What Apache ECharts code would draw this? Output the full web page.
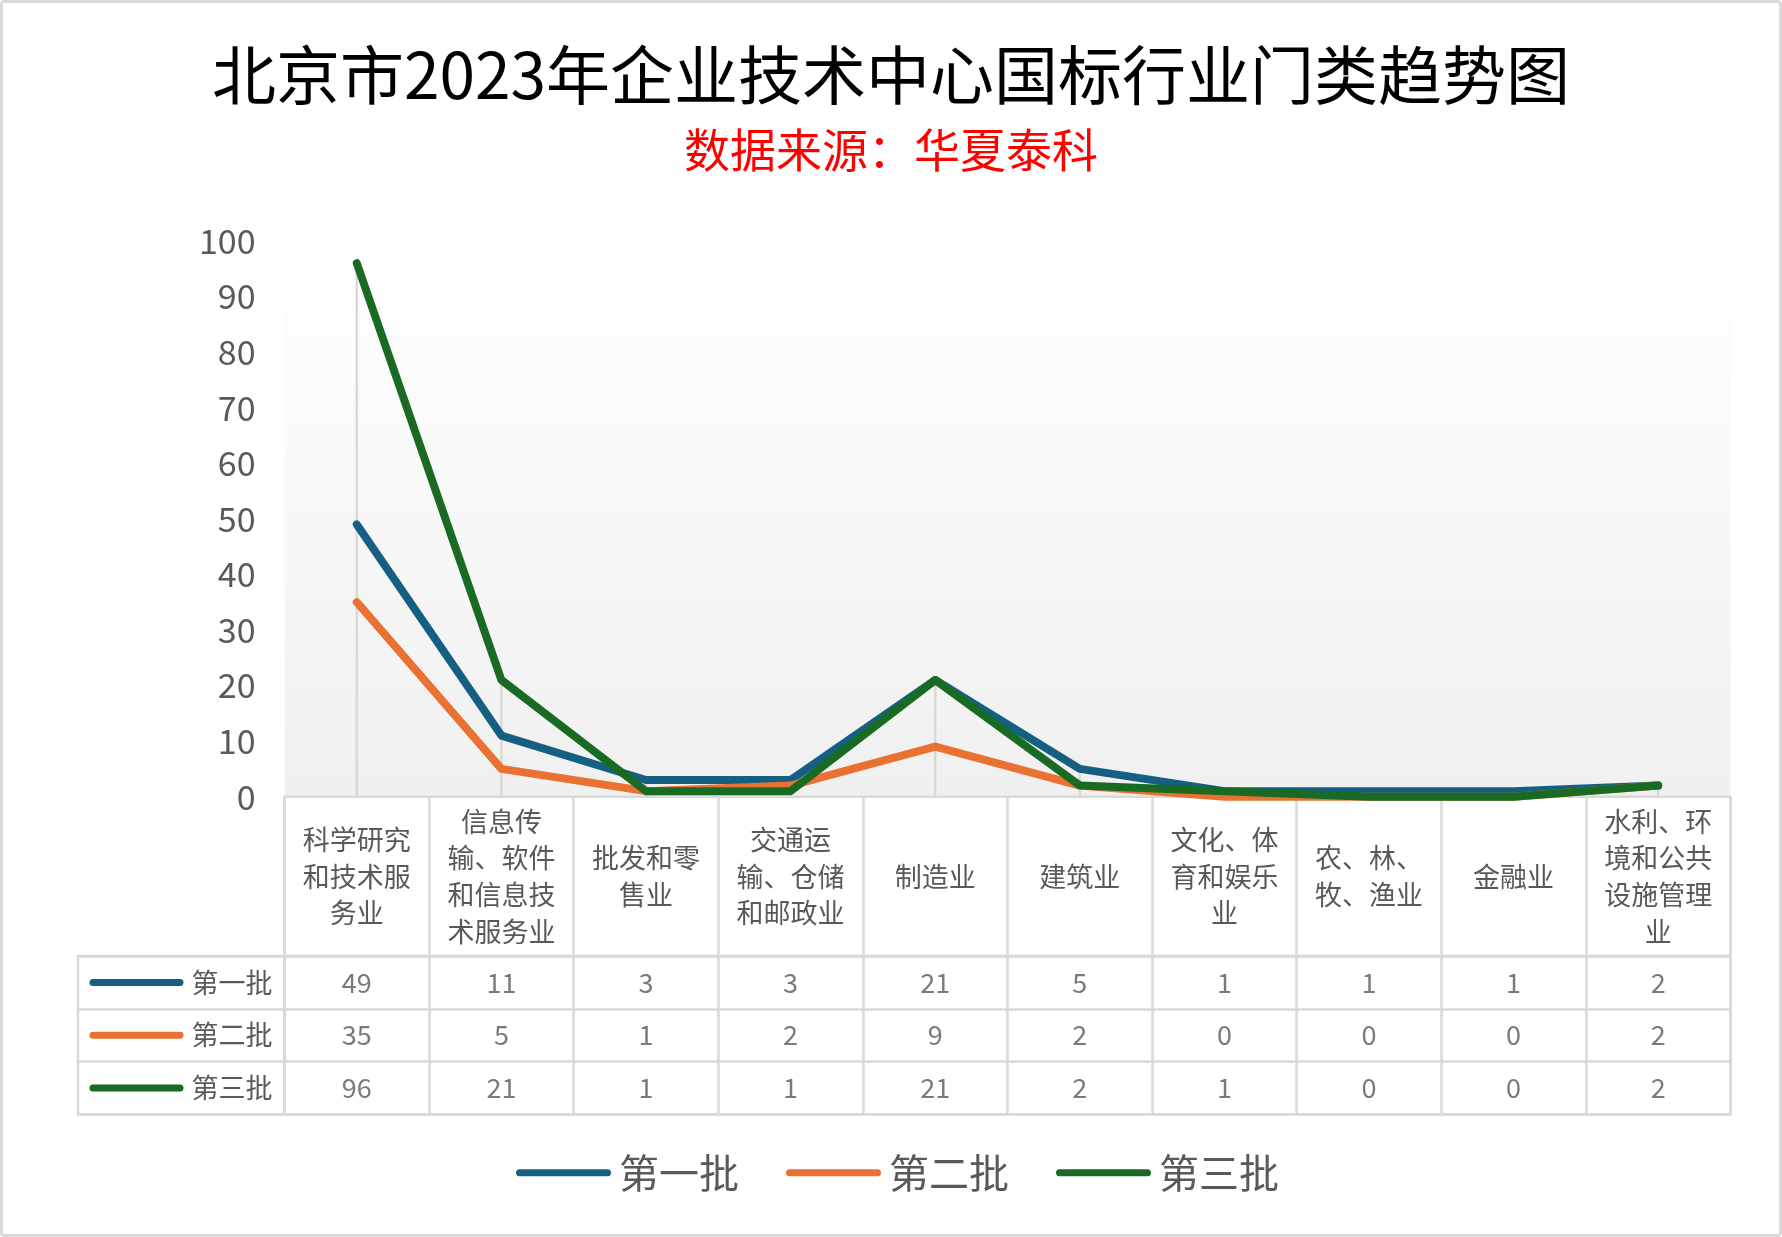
<!DOCTYPE html>
<html><head><meta charset="utf-8">
<script src="https://cdn.jsdelivr.net/npm/echarts@6/dist/echarts.min.js"></script>
<style>html,body{margin:0;padding:0;background:#fff}#c{width:1782px;height:1237px}</style>
</head><body><div id="c"></div>
<script>
// ---- data ----
const categories = ['科学研究\n和技术服\n务业','信息传\n输、软件\n和信息技\n术服务业','批发和零\n售业','交通运\n输、仓储\n和邮政业','制造业','建筑业','文化、体\n育和娱乐\n业','农、林、\n牧、渔业','金融业','水利、环\n境和公共\n设施管理\n业'];
const seriesNames = ['第一批','第二批','第三批'];
const batch1 = [49,11,3,3,21,5,1,1,1,2];
const batch2 = [35,5,1,2,9,2,0,0,0,2];
const batch3 = [96,21,1,1,21,2,1,0,0,2];
const yMin = 0, yMax = 100, yStep = 10;
const titleText = '北京市2023年企业技术中心国标行业门类趋势图';
const subText = '数据来源：华夏泰科';

// ---- styling ----
const colors = ['#156082','#E97132','#196B24'];
const FONT = '"Noto Sans CJK SC","Noto Sans",sans-serif';
const GRAY = '#595959';
const LINE = '#d9d9d9';
const L = 284.5, W = 1446;
const plotTop = 241, axisY = 796.7, headBottom = 956, tableBottom = 1114.3, leftX = 78;

const allSeries = [batch1, batch2, batch3];
const dropMax = categories.map((_, i) => Math.max(...allSeries.map(s => s[i])));
const cellData = [];
allSeries.forEach((s, j) => s.forEach((v, i) => cellData.push([i, j, v])));

const rich = {};
seriesNames.forEach((n, j) => {
  rich['l' + j] = {width: 94, height: 7, backgroundColor: colors[j], borderRadius: 3.5, verticalAlign: 'middle'};
});
rich.t = {fontSize: 27, color: GRAY, padding: [0,0,0,8], fontFamily: FONT, verticalAlign: 'middle'};

const splitStyle = {show: true, interval: 0, lineStyle: {color: LINE, width: 2.5}};

const chart = echarts.init(document.getElementById('c'), null, {renderer: 'canvas'});
chart.setOption({
  animation: false,
  backgroundColor: '#fff',
  textStyle: {fontFamily: FONT},
  color: colors,
  title: [
    {text: titleText, left: 'center', top: 43, padding: 0,
     textStyle: {fontSize: 64, fontWeight: 'normal', color: '#000', lineHeight: 64, fontFamily: FONT}},
    {text: subText, left: 'center', top: 127, padding: 0,
     textStyle: {fontSize: 46, fontWeight: 'normal', color: '#ff0000', lineHeight: 46, fontFamily: FONT}}
  ],
  legend: {
    data: seriesNames, left: 516, top: 1152.7, padding: 0,
    itemWidth: 95, itemHeight: 7, itemGap: 47,
    icon: 'path://M3.5,0 H91.5 A3.5,3.5 0 0 1 91.5,7 H3.5 A3.5,3.5 0 0 1 3.5,0 Z',
    textStyle: {fontSize: 40, color: GRAY, lineHeight: 40, padding: [0,0,0,3], fontFamily: FONT}
  },
  graphic: [{type: 'rect', shape: {x: 1.5, y: 1.5, width: 1779, height: 1234, r: 3},
    style: {fill: 'none', stroke: LINE, lineWidth: 3}, silent: true, z: 100}],
  grid: [
    {left: L, top: plotTop, width: W, height: axisY - plotTop, show: true, borderWidth: 0,
     outerBoundsMode: 'none',
     backgroundColor: new echarts.graphic.LinearGradient(0, 0, 0, 1, [{offset: 0, color: '#ffffff'}, {offset: 1, color: '#f0f0f0'}])},
    {left: L, top: axisY, width: W, height: headBottom - axisY, show: true, borderColor: LINE, borderWidth: 2.5, backgroundColor: 'transparent', outerBoundsMode: 'none'},
    {left: L, top: headBottom, width: W, height: tableBottom - headBottom, show: true, borderColor: LINE, borderWidth: 2.5, backgroundColor: 'transparent', outerBoundsMode: 'none'},
    {left: leftX, top: headBottom, width: L - leftX, height: tableBottom - headBottom, show: true, borderColor: LINE, borderWidth: 2.5, backgroundColor: 'transparent', outerBoundsMode: 'none'}
  ],
  xAxis: [
    {gridIndex: 0, type: 'category', data: categories, boundaryGap: true,
     axisLine: {show: false}, axisTick: {show: false}, splitLine: {show: false},
     axisLabel: {interval: 0, margin: 79.6, verticalAlign: 'middle', lineHeight: 36.7, fontSize: 27, color: GRAY, fontFamily: FONT, align: 'center'}},
    {gridIndex: 1, type: 'category', data: categories, boundaryGap: true,
     axisLine: {show: false}, axisTick: {show: false}, axisLabel: {show: false}, splitLine: splitStyle},
    {gridIndex: 2, type: 'category', data: categories, boundaryGap: true,
     axisLine: {show: false}, axisTick: {show: false}, axisLabel: {show: false}, splitLine: splitStyle},
    {gridIndex: 3, type: 'category', data: [''], boundaryGap: true,
     axisLine: {show: false}, axisTick: {show: false}, axisLabel: {show: false}, splitLine: {show: false}}
  ],
  yAxis: [
    {gridIndex: 0, type: 'value', min: yMin, max: yMax, interval: yStep,
     axisLine: {show: false}, axisTick: {show: false}, splitLine: {show: false},
     axisLabel: {fontSize: 34, color: GRAY, margin: 29, fontFamily: FONT}},
    {gridIndex: 1, type: 'value', show: false},
    {gridIndex: 2, type: 'category', data: seriesNames, inverse: true, boundaryGap: true,
     axisLine: {show: false}, axisTick: {show: false}, splitLine: splitStyle,
     axisLabel: {interval: 0, align: 'left', margin: 195, rich: rich,
       formatter: (v, idx) => '{l' + idx + '| }{t|' + v + '}'}},
    {gridIndex: 3, type: 'category', data: seriesNames, inverse: true, boundaryGap: true,
     axisLine: {show: false}, axisTick: {show: false}, axisLabel: {show: false}, splitLine: splitStyle}
  ],
  series: [
    {name: 'drop', type: 'bar', xAxisIndex: 0, yAxisIndex: 0, data: dropMax, barWidth: 2.5,
     itemStyle: {color: LINE}, z: 1, silent: true},
    ...allSeries.map((s, j) => ({
      name: seriesNames[j], type: 'line', xAxisIndex: 0, yAxisIndex: 0, data: s,
      symbol: 'none', clip: false, z: 3 + j,
      itemStyle: {color: colors[j]},
      lineStyle: {width: 8, color: colors[j], cap: 'round', join: 'round'}
    })),
    {name: 'cells', type: 'scatter', xAxisIndex: 2, yAxisIndex: 2, data: cellData,
     symbolSize: 1, itemStyle: {color: 'rgba(0,0,0,0)'}, silent: true,
     label: {show: true, position: 'inside', formatter: p => String(p.value[2]), fontSize: 27, color: GRAY, fontFamily: FONT}}
  ]
});
</script></body></html>
